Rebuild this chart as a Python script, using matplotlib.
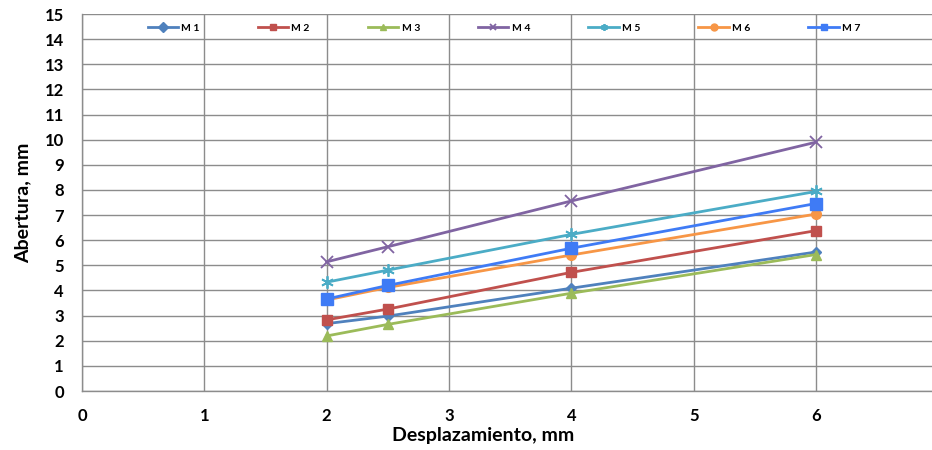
import matplotlib
matplotlib.use("Agg")
import matplotlib.pyplot as plt

x = [2, 2.5, 4, 6]
series_names = ["M 1", "M 2", "M 3", "M 4", "M 5", "M 6", "M 7"]
m1 = [2.68, 2.98, 4.09, 5.53]
m2 = [2.83, 3.26, 4.72, 6.38]
m3 = [2.19, 2.65, 3.89, 5.43]
m4 = [5.14, 5.74, 7.56, 9.90]
m5 = [4.33, 4.81, 6.23, 7.94]
m6 = [3.62, 4.12, 5.41, 7.04]
m7 = [3.66, 4.20, 5.68, 7.46]
values = [m1, m2, m3, m4, m5, m6, m7]

colors = ["#4F81BD", "#C0504D", "#9BBB59", "#8064A2", "#4BACC6", "#F79646", "#3F7BF5"]
markers = ["D", "s", "^", "x", (6, 2, 0), "o", "s"]
msizes = [5, 7, 7, 8, 9, 7, 8]

plt.rcParams['font.family'] = ['Lato', 'DejaVu Sans']

fig = plt.figure(figsize=(9.32, 4.5), dpi=100)
ax = fig.add_axes([82/932, 1-391/450, 1-82/932, (391-14)/450])

for name, vals, c, m, ms in zip(series_names, values, colors, markers, msizes):
    kw = dict(color=c, marker=m, markersize=ms, linewidth=2.0, label=name)
    if m == "x" or isinstance(m, tuple):
        kw["markeredgewidth"] = 1.3
    ax.plot(x, vals, **kw)

ax.set_xlim(0, 850/122.33)
ax.set_ylim(0, 15)
ax.set_xticks(range(0, 7))
ax.set_yticks(range(0, 16))
ax.grid(True, color="#8c8c8c", linewidth=1.0)
ax.set_axisbelow(True)
for s in ["top", "right"]:
    ax.spines[s].set_visible(False)
for s in ["left", "bottom"]:
    ax.spines[s].set_color("#8c8c8c")
    ax.spines[s].set_linewidth(1.0)
ax.tick_params(axis="both", length=0, labelsize=12)
ax.tick_params(axis="y", pad=13)
ax.tick_params(axis="x", pad=12)
for lab in ax.get_xticklabels() + ax.get_yticklabels():
    lab.set_fontweight("bold")

ax.set_xlabel("Desplazamiento, mm", fontsize=14, fontweight="bold")
ax.set_ylabel("Abertura, mm", fontsize=14, fontweight="bold")
ax.xaxis.set_label_coords((483-82)/850, -(427-391)/377)
ax.yaxis.set_label_coords(-(82-31)/850, 0.5)

leg = ax.legend(loc="center left", bbox_to_anchor=((148-82)/850, (391-28)/377),
                ncol=7, frameon=False, handlelength=2.9,
                handletextpad=0.3, columnspacing=5.6, borderpad=0, borderaxespad=0,
                prop={"weight": "bold", "size": 7.5})
for h in leg.legend_handles:
    h.set_markersize(5)

fig.savefig("out.png", dpi=100)
